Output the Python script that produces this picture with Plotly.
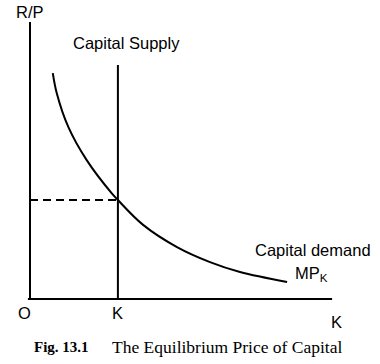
import plotly.graph_objects as go

# Demand curve (MP_K), in chart units
demand_k = [0.76, 0.89, 1.28, 1.89, 2.72, 2.93, 3.77, 4.90, 6.00, 7.00, 8.57]
demand_r = [7.53, 6.87, 5.73, 4.63, 3.53, 3.30, 2.47, 1.73, 1.23, 0.90, 0.57]
supply_k = 2.93          # capital supply (vertical)
supply_top = 7.8
equil_r = 3.30
x_axis_end = 10.07
y_axis_top = 9.23

fig = go.Figure()
line = dict(color="black", width=2)
fig.add_trace(go.Scatter(x=[0, 0], y=[0, y_axis_top], mode="lines", line=line))
fig.add_trace(go.Scatter(x=[-0.07, x_axis_end], y=[0, 0], mode="lines", line=line))
fig.add_trace(go.Scatter(x=[supply_k, supply_k], y=[0, supply_top], mode="lines", line=line))
fig.add_trace(go.Scatter(x=[0, supply_k], y=[equil_r, equil_r], mode="lines",
                         line=dict(color="black", width=2, dash="8px,5px")))
fig.add_trace(go.Scatter(x=demand_k, y=demand_r, mode="lines",
                         line=dict(color="black", width=2, shape="spline", smoothing=1.0)))

sans = "Liberation Sans"
serif = "Liberation Serif"
anns = [
    dict(x=0, y=9.57, text="R/P", size=16.5, font=sans, xanchor="center"),
    dict(x=3.23, y=8.53, text="Capital Supply", size=16.5, font=sans, xanchor="center"),
    dict(x=9.43, y=1.63, text="Capital demand", size=16.5, font=sans, xanchor="center"),
    dict(x=9.37, y=0.85, text="MP<sub>K</sub>", size=16.5, font=sans, xanchor="center"),
    dict(x=-0.2, y=-0.45, text="O", size=16.5, font=sans, xanchor="center"),
    dict(x=2.9, y=-0.45, text="K", size=16.5, font=sans, xanchor="center"),
    dict(x=10.23, y=-0.77, text="K", size=16.5, font=sans, xanchor="center"),
    dict(x=0.07, y=-1.6, text="<b>Fig. 13.1</b>", size=15, font=serif, xanchor="left"),
    dict(x=2.67, y=-1.6, text="The Equilibrium Price of Capital", size=17.5, font=serif, xanchor="left"),
]
for a in anns:
    fig.add_annotation(x=a["x"], y=a["y"], text=a["text"], showarrow=False,
                       xref="x", yref="y", xanchor=a["xanchor"], yanchor="middle",
                       font=dict(family=a["font"], size=a["size"], color="black"))

fig.update_layout(
    width=380, height=364,
    margin=dict(l=0, r=0, t=0, b=0),
    plot_bgcolor="white", paper_bgcolor="white",
    showlegend=False,
    xaxis=dict(range=[-1, 350 / 30], visible=False),
    yaxis=dict(range=[-65 / 30, 299 / 30], visible=False),
)
for tr in fig.data:
    tr.cliponaxis = False
fig.write_html("out.html", config={"displayModeBar": False},
               post_script="document.body.style.margin='0px';")
